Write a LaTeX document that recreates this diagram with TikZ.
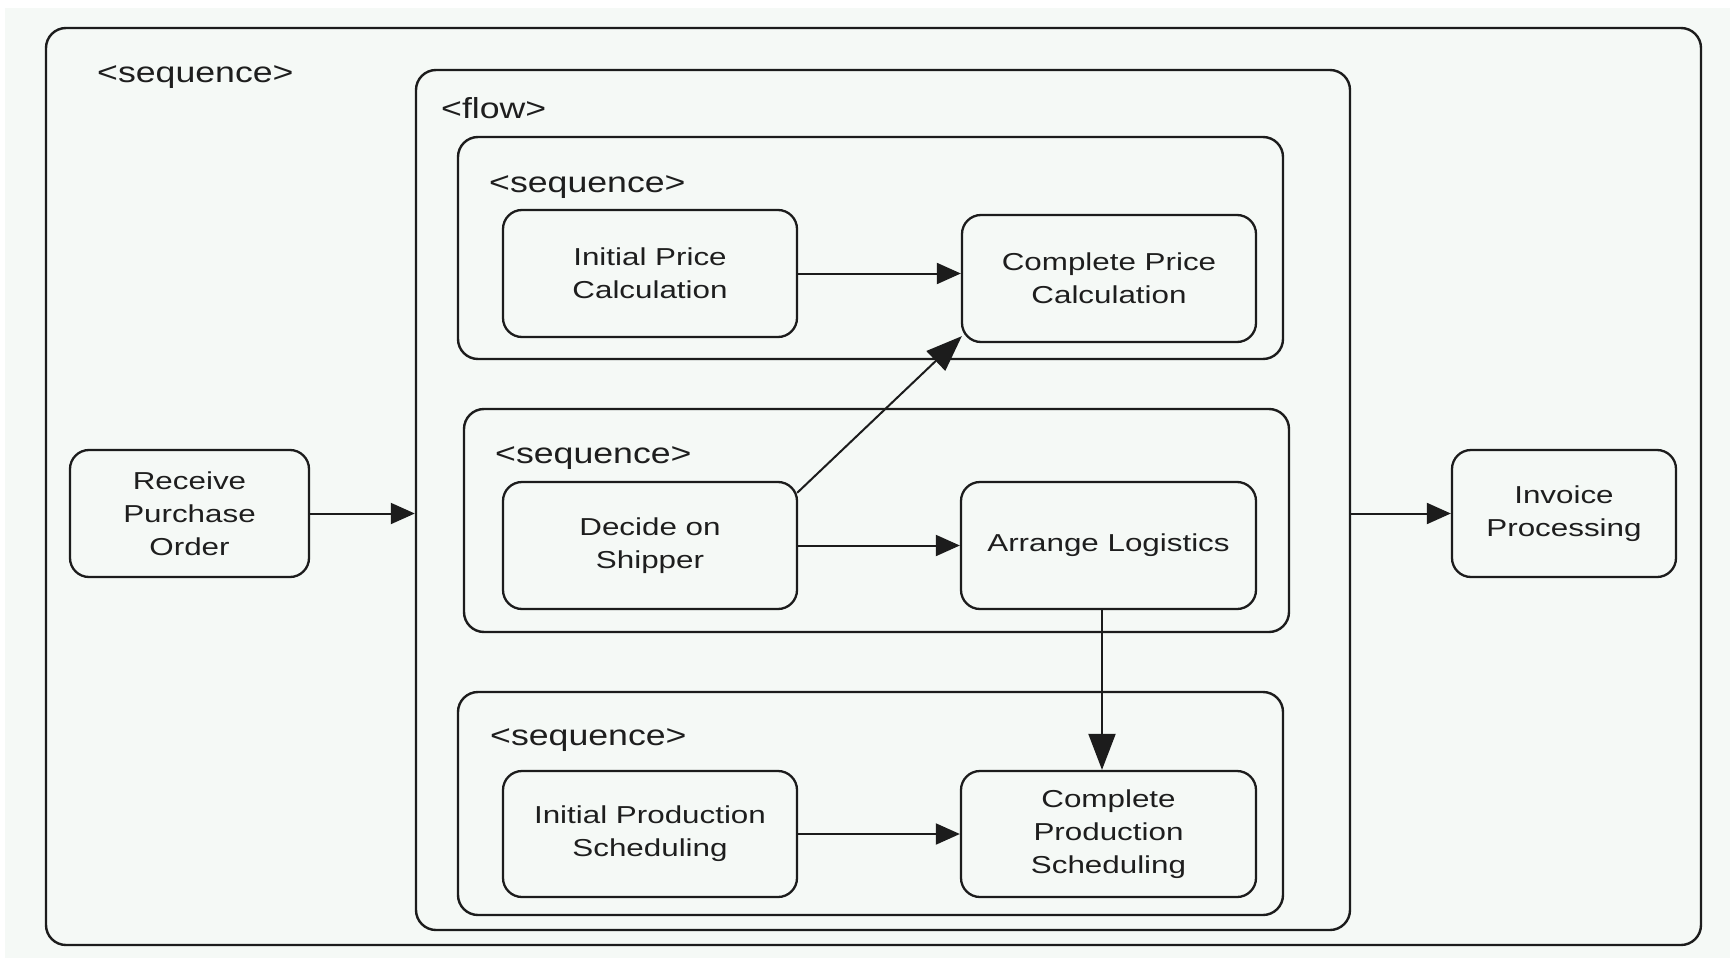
\documentclass[tikz,border=0pt]{standalone}
\usepackage{fontspec}
\usetikzlibrary{arrows.meta,calc}
\newfontfamily\taskfont[FakeStretch=1.28]{Liberation Sans}
\newfontfamily\tagfont[FakeStretch=1.23]{Liberation Sans}
\definecolor{paper}{HTML}{F5F9F6}
\definecolor{ink}{HTML}{1C1C1C}
\definecolor{txt}{HTML}{1E1E1E}
\tikzset{
  groupbox/.style={draw=ink, line width=2.4pt, rounded corners=20pt, inner sep=0pt},
  taskbox/.style={draw=ink, line width=2.3pt, rounded corners=19pt, inner sep=0pt,
    align=center, text=txt, font=\taskfont\fontsize{24.5}{33}\selectfont},
  tag/.style={anchor=base west, inner sep=0pt, text=txt,
    font=\tagfont\fontsize{29}{35}\selectfont},
  arr/.style={draw=ink, line width=2pt, -{Triangle[length=24pt,width=21pt]}},
  bigarr/.style={draw=ink, line width=2pt, -{Triangle[length=36pt,width=27pt]}}
}
\begin{document}
\begin{tikzpicture}[x=1pt,y=-1pt]
\useasboundingbox (0,0) rectangle (1730,958);
\fill[white] (0,0) rectangle (1730,958);
\fill[paper] (5,8) rectangle (1730,958);

% containers
\node[groupbox, minimum width=1655pt, minimum height=917pt] (outer) at (873.5,486.5) {};
\node[groupbox, minimum width=934pt, minimum height=860pt] (flow) at (883,500) {};
\node[groupbox, minimum width=825pt, minimum height=222pt] (seqa) at (870.5,248) {};
\node[groupbox, minimum width=825pt, minimum height=223pt] (seqb) at (876.5,520.5) {};
\node[groupbox, minimum width=825pt, minimum height=223pt] (seqc) at (870.5,803.5) {};

% container tags
\node[tag] (tOuter) at (97,83) {<sequence>};
\node[tag] (tFlow) at (441,118) {<flow>};
\node[tag] (tSeqa) at (489,192) {<sequence>};
\node[tag] (tSeqb) at (495,463) {<sequence>};
\node[tag] (tSeqc) at (490,745) {<sequence>};

% tasks
\node[taskbox, minimum width=239pt, minimum height=127pt] (rpo) at (189.5,513.5) {Receive\\Purchase\\Order};
\node[taskbox, minimum width=224pt, minimum height=127pt] (inv) at (1564,513.5) {Invoice\\Processing};
\node[taskbox, minimum width=294pt, minimum height=127pt] (ipc) at (650,273.5) {Initial Price\\Calculation};
\node[taskbox, minimum width=294pt, minimum height=127pt] (cpc) at (1109,278.5) {Complete Price\\Calculation};
\node[taskbox, minimum width=294pt, minimum height=127pt] (dos) at (650,545.5) {Decide on\\Shipper};
\node[taskbox, minimum width=295pt, minimum height=127pt] (al) at (1108.5,545.5) {Arrange Logistics};
\node[taskbox, minimum width=294pt, minimum height=126pt] (ips) at (650,834) {Initial Production\\Scheduling};
\node[taskbox, minimum width=295pt, minimum height=126pt] (cps) at (1108.5,834) {Complete\\Production\\Scheduling};

% connectors
\draw[arr] (rpo.east) -- (rpo.east -| flow.west);
\draw[arr] (inv.west -| flow.east) -- (inv.west);
\draw[arr] (ipc.east) -- (ipc.east -| cpc.west);
\draw[arr] (dos.east) -- (al.west);
\draw[arr] (ips.east) -- (ips.east -| cps.west);
\coordinate (alDown) at ($(al.south)+(-6.5,0)$);
\draw[bigarr] (alDown) -- (alDown |- cps.north);
\coordinate (dosCorner) at ($(dos.north east)+(-1,12)$);
\coordinate (cpcCorner) at ($(cpc.south west)+(1,-7)$);
\draw[bigarr] (dosCorner) -- (cpcCorner);
\end{tikzpicture}
\end{document}
